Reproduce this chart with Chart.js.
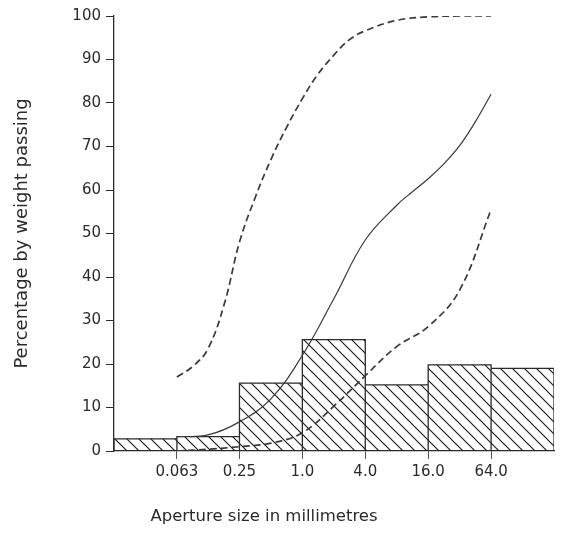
<!DOCTYPE html>
<html>
<head>
<meta charset="utf-8">
<script src="https://cdn.jsdelivr.net/npm/chart.js@4/dist/chart.umd.min.js"></script>
<style>
  html, body { margin: 0; padding: 0; background: #fff; }
  #grading { display: block; }
</style>
</head>
<body>
<canvas id="grading" width="564" height="534"></canvas>
<script>
// sieve bins (mm) and percentage retained in each bin
const binEdges = [0.01575, 0.063, 0.25, 1, 4, 16, 64, 256];
const binPercent = [2.8, 3.3, 15.6, 25.6, 15.2, 19.8, 19.0];

const tickValues = [0.063, 0.25, 1, 4, 16, 64];
const tickLabels = ['0.063', '0.25', '1.0', '4.0', '16.0', '64.0'];
const xTitle = 'Aperture size in millimetres';
const yTitle = 'Percentage by weight passing';

// grading envelope, upper limit
const upperSize = [0.063, 0.09, 0.125, 0.18, 0.25, 0.35, 0.5, 0.71, 1, 1.4, 2, 2.8, 4, 8, 16, 32, 64];
const upperPass = [17, 19.5, 23.5, 34, 48, 58, 67, 74.5, 81, 86.5, 91, 94.5, 96.6, 99, 99.8, 100, 100];

// measured cumulative curve
const sampleSize = [0.063, 0.125, 0.25, 0.5, 1, 2, 4, 8, 11.3, 16, 22.6, 32, 45, 64];
const samplePass = [3.3, 3.7, 6.7, 12, 22, 35, 48.5, 56.5, 59.6, 62.6, 66, 70.2, 75.6, 82];

// grading envelope, lower limit
const lowerSize = [0.063, 0.125, 0.25, 0.5, 1, 2, 4, 8, 16, 32, 64];
const lowerPass = [0, 0.4, 1.0, 1.8, 4.2, 10.3, 17.3, 24, 28.6, 37, 55.5];

const ink = '#2b2b2b';
const font = 'DejaVu Sans';

function hatch(size, color) {
  const c = document.createElement('canvas');
  c.width = c.height = size;
  const g = c.getContext('2d');
  g.strokeStyle = color;
  g.lineWidth = 1.2;
  g.beginPath();
  for (let k = -1; k <= 1; k++) {
    g.moveTo(-1, -1 + k * size);
    g.lineTo(size + 1, size + 1 + k * size);
  }
  g.stroke();
  return g.createPattern(c, 'repeat');
}

// each bin as a closed outline standing on the axis
const histPoints = [];
binPercent.forEach((h, i) => {
  histPoints.push({x: binEdges[i], y: 0}, {x: binEdges[i], y: h},
                  {x: binEdges[i + 1], y: h}, {x: binEdges[i + 1], y: 0});
});

const pairs = (xs, ys) => xs.map((x, i) => ({x: x, y: ys[i]}));

const curve = (label, xs, ys, dash, width) => ({
  label: label,
  data: pairs(xs, ys),
  borderColor: '#3a3a3a',
  borderWidth: width,
  borderDash: dash,
  pointRadius: 0,
  fill: false,
  tension: 0.4,
  order: 1
});

// axis caption sits left of the plot centre, so it is drawn by hand
const caption = {
  id: 'caption',
  afterDraw(chart) {
    const {ctx, chartArea} = chart;
    ctx.save();
    ctx.font = '16.5px "' + font + '"';
    ctx.fillStyle = ink;
    ctx.textAlign = 'center';
    ctx.textBaseline = 'middle';
    ctx.fillText(xTitle, chartArea.left + 150, chartArea.bottom + 66);
    ctx.restore();
  }
};

new Chart(document.getElementById('grading'), {
  type: 'line',
  data: {
    datasets: [
      curve('Upper limit', upperSize, upperPass, [7, 4], 1.7),
      curve('Sample', sampleSize, samplePass, [], 1.2),
      curve('Lower limit', lowerSize, lowerPass, [7, 4], 1.7),
      {
        label: 'Retained',
        data: histPoints,
        borderColor: ink,
        borderWidth: 1.3,
        backgroundColor: hatch(12, '#1e1e1e'),
        fill: 'origin',
        pointRadius: 0,
        tension: 0,
        order: 2
      }
    ]
  },
  plugins: [caption],
  options: {
    responsive: false,
    animation: false,
    layout: { padding: { left: 0, right: 10, top: 16, bottom: 53 } },
    plugins: {
      legend: { display: false },
      tooltip: { enabled: false }
    },
    scales: {
      x: {
        type: 'logarithmic',
        min: binEdges[0],
        max: binEdges[binEdges.length - 1],
        afterBuildTicks: axis => { axis.ticks = tickValues.map(v => ({value: v})); },
        afterFit: axis => { axis.height = 30; },
        border: { color: ink, width: 1.3 },
        grid: { drawOnChartArea: false, tickLength: 8, color: '#555' },
        ticks: {
          autoSkip: false,
          maxRotation: 0,
          padding: 4,
          color: ink,
          font: { family: font, size: 15 },
          callback: (v, i) => tickLabels[i]
        }
      },
      y: {
        min: 0,
        max: 100,
        afterFit: axis => { axis.width = 114; },
        border: { color: ink, width: 1.3 },
        grid: { drawOnChartArea: false, tickLength: 8, color: ink },
        ticks: {
          stepSize: 10,
          padding: 5,
          color: ink,
          font: { family: font, size: 15 }
        },
        title: {
          display: true,
          text: yTitle,
          color: ink,
          font: { family: font, size: 18 },
          padding: { top: 12, bottom: 0 }
        }
      }
    }
  }
});
</script>
</body>
</html>
